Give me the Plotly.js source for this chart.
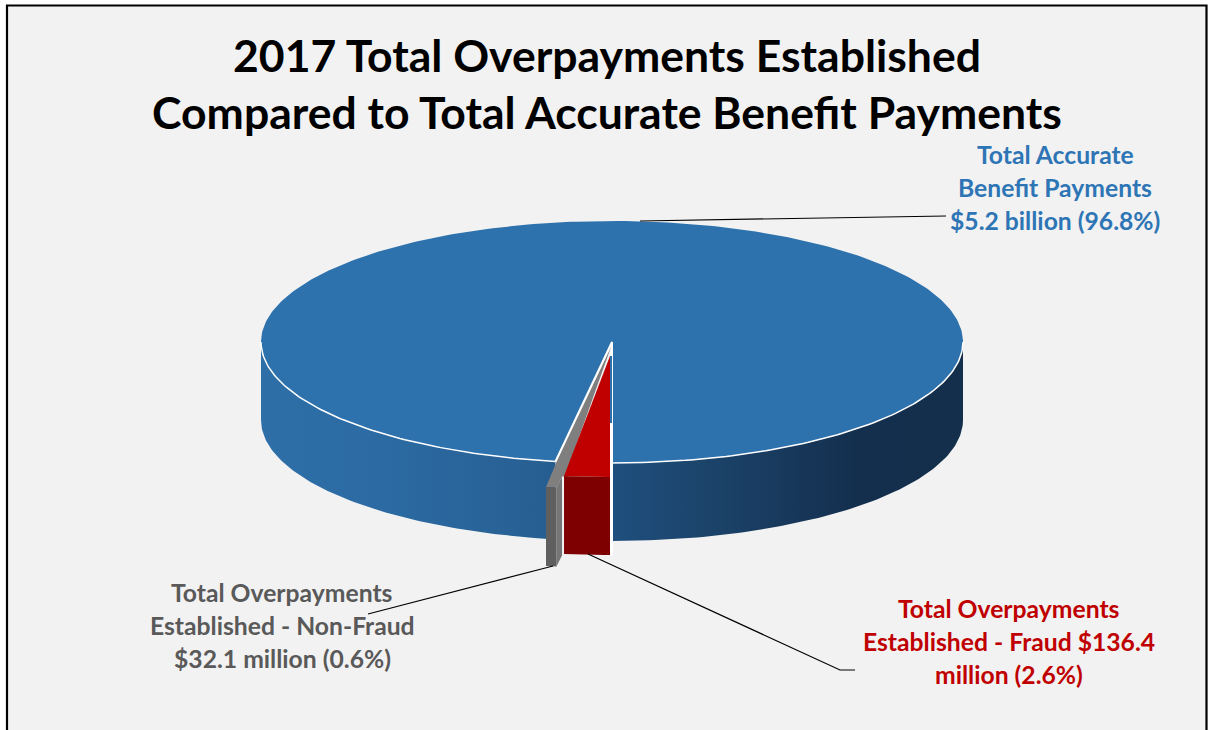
<!DOCTYPE html>
<html>
<head>
<meta charset="utf-8">
<script src="https://cdn.plot.ly/plotly-3.0.1.min.js"></script>
<style>html,body{margin:0;padding:0;background:#fff}#chart{width:1208px;height:730px}</style>
</head>
<body>
<div id="chart"></div>
<script>
// Chart values
const chartTitle = "2017 Total Overpayments Established<br>Compared to Total Accurate Benefit Payments";
const categories = ["Total Accurate Benefit Payments", "Total Overpayments Established - Fraud", "Total Overpayments Established - Non-Fraud"];
const sharePercent = [96.8, 2.6, 0.6];
const labelTexts = [
  "Total Accurate<br>Benefit Payments<br>$5.2 billion (96.8%)",
  "Total Overpayments<br>Established - Fraud $136.4<br>million (2.6%)",
  "Total Overpayments<br>Established - Non-Fraud<br>$32.1 million (0.6%)"
];

// Presentation
const FONT = "Lato, Carlito, Calibri, sans-serif";
const C = {cx: 612, cy: 342, rx: 351, ry: 121, depth: 78, persp: 0.804};
const rad = d => d * Math.PI / 180;
const degOf = pct => pct * 3.6 * C.persp;
const pt = (deg, ox, oy) => [ox - C.rx * Math.sin(rad(deg)), oy + C.ry * Math.cos(rad(deg))];

function arc(d0, d1, ox, oy, step) {
  const out = [];
  const n = Math.max(2, Math.round(Math.abs(d1 - d0) / (step || 1)));
  for (let i = 0; i <= n; i++) out.push(pt(d0 + (d1 - d0) * i / n, ox, oy));
  return out;
}
function poly(points, fill, name) {
  return {
    type: "scatter", mode: "lines", x: points.map(p => p[0]), y: points.map(p => p[1]),
    fill: "toself", fillcolor: fill, line: {width: 0, color: fill}, name: name, hoverinfo: "name", showlegend: false
  };
}
function stroke(points, color, width, name) {
  return {type: "scatter", mode: "lines", x: points.map(p => p[0]), y: points.map(p => p[1]),
    line: {color: color, width: width}, hoverinfo: "skip", showlegend: false, name: name};
}

const gapDeg = degOf(sharePercent[1] + sharePercent[2]);
const fraudDeg = degOf(sharePercent[1]);
const {cx, cy, depth} = C;

const wallGradient = {
  type: "horizontal", start: cx - C.rx, stop: cx + C.rx,
  colorscale: [[0, "#2e6fa8"], [0.2, "#2b69a1"], [0.4, "#275f92"], [0.5, "#1f4f7e"], [0.65, "#1b4268"], [0.85, "#142f4e"], [1, "#142f4b"]]
};
const wall = (d0, d1, name) => {
  const top = arc(d0, d1, cx, cy);
  const bot = arc(d1, d0, cx, cy + depth);
  return {type: "scatter", mode: "lines", x: top.concat(bot).map(p => p[0]), y: top.concat(bot).map(p => p[1]),
    fill: "toself", fillgradient: wallGradient, line: {width: 0}, hoverinfo: "skip", showlegend: false, name: name};
};

// Blue main slice: runs from the edge of the gap round the far side to the front centre
const blueTop = [[cx, cy]].concat(arc(gapDeg, 360, cx, cy));
const cutCorner = pt(gapDeg, cx, cy);

// Fraud slice, pulled out of the pie
const rOx = cx - 2, rOy = cy + 14;
const redTop = [[rOx, rOy]].concat(arc(0, fraudDeg, rOx, rOy, 0.5));
const redFrontTop = arc(0, fraudDeg, rOx, rOy, 0.5);
const redFront = redFrontTop.concat(redFrontTop.slice().reverse().map(p => [p[0], p[1] + depth]));

// Non-fraud slice, pulled out further
const gOx = cx - 9.5, gOy = cy + 25.6;
const gApex = [cx - 1, cy + 5];
const gRim = arc(fraudDeg, gapDeg, gOx, gOy, 0.5);
const gIn = gRim[0];
const gInner = [gIn[0] + 5.5, gIn[1] - 11];
const gTop = [gApex, [cutCorner[0] + 1, cutCorner[1] + 0.5]].concat(gRim.slice().reverse(), [gIn, gInner, [gInner[0] + 3, gInner[1]]]);
const gFront = gRim.concat(gRim.slice().reverse().map(p => [p[0], p[1] + depth + 1]));
const gSide = [gIn, gInner, [gInner[0], gInner[1] + depth + 1], [gIn[0], gIn[1] + depth + 1]];

const traces = [
  wall(270, 360, "Accurate wall right"),
  wall(gapDeg, 90, "Accurate wall left"),
  poly(blueTop, "#2d71ad", categories[0]),
  stroke(arc(gapDeg, 90, cx, cy), "#ffffff", 1.5, "rim left"),
  stroke(arc(270, 360, cx, cy), "#ffffff", 1.5, "rim right"),
  stroke([cutCorner, [cx, cy], [cx, cy + C.ry]], "#ffffff", 2, "cut edge"),
  stroke([[cx - 0.5, cy + 81], [cx - 0.5, cy + 214]], "#ffffff", 3, "cut gap"),
  stroke([[cx - 1, cy + 14], [cx - 1, cy + 81]], "#2d71ad", 2, "inner strip"),
  poly(gTop, "#7f7f7f", categories[2]),
  poly(gSide, "#767676", categories[2] + " inner"),
  poly(gFront, "#5f5f5f", categories[2] + " front"),
  poly(redTop, "#c00000", categories[1]),
  poly(redFront, "#7f0000", categories[1] + " front"),
  stroke([[640, 221], [946, 216]], "#000000", 1.2, "leader 1"),
  stroke([[588, 554], [840, 670], [855, 670]], "#000000", 1.2, "leader 2"),
  stroke([[553, 566], [368, 614]], "#000000", 1.2, "leader 3")
];

// Each label is placed line by line so the line pitch follows the reference
const labelLines = (text, x, yFirst, color) => text.split("<br>").map((line, i) => ({
  text: line, x: x, y: yFirst + i * 33, xref: "x", yref: "y", xanchor: "center", yanchor: "middle",
  showarrow: false, align: "center", font: {family: FONT, size: 24.7, color: color, weight: 700}
}));

const layout = {
  width: 1208, height: 730,
  margin: {l: 0, r: 0, t: 0, b: 0, pad: 0},
  paper_bgcolor: "#ffffff", plot_bgcolor: "#ffffff",
  title: {text: chartTitle, x: 607 / 1208, xanchor: "center", y: 0.902, yref: "container", yanchor: "top",
    font: {family: FONT, size: 44.5, color: "#000000", weight: 700}},
  xaxis: {range: [0, 1208], visible: false, fixedrange: true},
  yaxis: {range: [730, 0], visible: false, fixedrange: true},
  showlegend: false,
  shapes: [{type: "rect", xref: "x", yref: "y", x0: 7, x1: 1206.5, y0: 5.5, y1: 760, fillcolor: "#f2f2f2",
    line: {color: "#000000", width: 2.2}, layer: "below"}],
  annotations: [].concat(
    labelLines(labelTexts[0], 1055, 154, "#2e75b6"),
    labelLines(labelTexts[1], 1009, 608, "#c00000"),
    labelLines(labelTexts[2], 282, 592, "#595959")
  )
};
Plotly.newPlot("chart", traces, layout, {displayModeBar: false, staticPlot: true});
</script>
</body>
</html>
